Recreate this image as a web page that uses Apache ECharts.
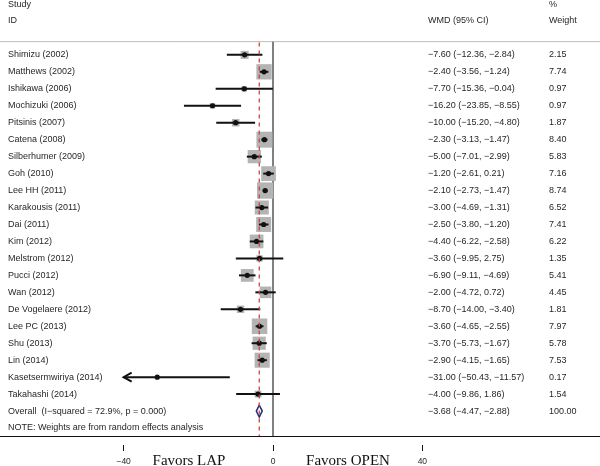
<!DOCTYPE html>
<html>
<head>
<meta charset="utf-8">
<script src="https://cdn.jsdelivr.net/npm/echarts@6/dist/echarts.min.js"></script>
<style>html,body{margin:0;padding:0;background:#fff}#c{width:600px;height:466px}</style>
</head>
<body>
<div id="c"></div>
<script>
const studies = ["Shimizu (2002)","Matthews (2002)","Ishikawa (2006)","Mochizuki (2006)","Pitsinis (2007)","Catena (2008)","Silberhumer (2009)","Goh (2010)","Lee HH (2011)","Karakousis (2011)","Dai (2011)","Kim (2012)","Melstrom (2012)","Pucci (2012)","Wan (2012)","De Vogelaere (2012)","Lee PC (2013)","Shu (2013)","Lin (2014)","Kasetsermwiriya (2014)","Takahashi (2014)"];
const wmd = [-7.60,-2.40,-7.70,-16.20,-10.00,-2.30,-5.00,-1.20,-2.10,-3.00,-2.50,-4.40,-3.60,-6.90,-2.00,-8.70,-3.60,-3.70,-2.90,-31.00,-4.00];
const ciLow = [-12.36,-3.56,-15.36,-23.85,-15.20,-3.13,-7.01,-2.61,-2.73,-4.69,-3.80,-6.22,-9.95,-9.11,-4.72,-14.00,-4.65,-5.73,-4.15,-50.43,-9.86];
const ciHigh = [-2.84,-1.24,-0.04,-8.55,-4.80,-1.47,-2.99,0.21,-1.47,-1.31,-1.20,-2.58,2.75,-4.69,0.72,-3.40,-2.55,-1.67,-1.65,-11.57,1.86];
const weights = [2.15,7.74,0.97,0.97,1.87,8.40,5.83,7.16,8.74,6.52,7.41,6.22,1.35,5.41,4.45,1.81,7.97,5.78,7.53,0.17,1.54];
const overallLabel = "Overall  (I\u2212squared = 72.9%, p = 0.000)";
const overall = {wmd: -3.68, low: -4.47, high: -2.88, weight: 100.00};
const xTicks = [-40, 0, 40];
const noteText = "NOTE: Weights are from random effects analysis";

const fmt = v => (v < 0 ? "\u2212" : "") + Math.abs(v).toFixed(2);
const ciStr = (e, l, h) => fmt(e) + " (" + fmt(l) + ", " + fmt(h) + ")";

const X_MIN = -73.11, X_MAX = 87.57, CLIP = -40;
const Y_MIN = -3.235, Y_MAX = 22.47, HEADER_ROW = -0.78;
const nRows = studies.length;
const overallRow = nRows;

const sans = "'Liberation Sans', Arial, sans-serif";
const txtColor = "#231f20";

const studyData = studies.map((s, i) => [wmd[i], ciLow[i], ciHigh[i], weights[i], i]);
const textData = studies.map((s, i) => [0, i]).concat([[0, overallRow]]);
const rowName = studies.concat([overallLabel]);
const rowCI = studies.map((s, i) => ciStr(wmd[i], ciLow[i], ciHigh[i])).concat([ciStr(overall.wmd, overall.low, overall.high)]);
const rowW = weights.map(w => w.toFixed(2)).concat([overall.weight.toFixed(2)]);

const chart = echarts.init(document.getElementById('c'), null, {renderer: 'canvas'});
const option = {
  animation: false,
  backgroundColor: '#fff',
  grid: {left: 0, right: 0, top: 0, bottom: 29, containLabel: false},
  xAxis: [
    {type: 'value', min: X_MIN, max: X_MAX, position: 'bottom',
     axisLine: {show: true, onZero: false, lineStyle: {color: '#111', width: 1}},
     axisTick: {show: false}, axisLabel: {show: false}, splitLine: {show: false}},
    {type: 'value', min: X_MIN, max: X_MAX, position: 'bottom', offset: 9,
     axisLine: {show: false, onZero: false},
     axisTick: {show: true, length: 6, customValues: xTicks, lineStyle: {color: '#111', width: 1}},
     axisLabel: {show: true, customValues: xTicks, margin: 12, fontSize: 8.5, fontFamily: sans, color: txtColor,
                 formatter: v => (v < 0 ? '\u2212' : '') + Math.abs(v)},
     splitLine: {show: false}}
  ],
  yAxis: {type: 'value', inverse: true, min: Y_MIN, max: Y_MAX, show: false},
  graphic: [
    {type: 'text', left: 8, top: 0, style: {text: 'Study', font: '9px ' + sans, fill: txtColor}},
    {type: 'text', left: 8, top: 16, style: {text: 'ID', font: '9px ' + sans, fill: txtColor}},
    {type: 'text', left: 428, top: 16, style: {text: 'WMD (95% CI)', font: '9px ' + sans, fill: txtColor}},
    {type: 'text', left: 549, top: 0, style: {text: '%', font: '9px ' + sans, fill: txtColor}},
    {type: 'text', left: 549, top: 16, style: {text: 'Weight', font: '9px ' + sans, fill: txtColor}},
    {type: 'text', left: 8, top: 423, style: {text: noteText, font: '9px ' + sans, fill: txtColor}},
    {type: 'text', x: 189, y: 461, style: {text: 'Favors LAP', font: "15px 'Liberation Serif', 'Times New Roman', serif", fill: '#111', align: 'center', verticalAlign: 'middle'}},
    {type: 'text', x: 348, y: 461, style: {text: 'Favors OPEN', font: "15px 'Liberation Serif', 'Times New Roman', serif", fill: '#111', align: 'center', verticalAlign: 'middle'}}
  ],
  series: [
    {type: 'line', name: 'header', data: [[X_MIN, HEADER_ROW], [X_MAX, HEADER_ROW]], symbol: 'none',
     lineStyle: {color: '#bdbdbd', width: 1}, silent: true, z: 1},
    {type: 'line', name: 'zero', data: [[0, HEADER_ROW], [0, Y_MAX]], symbol: 'none',
     lineStyle: {color: '#4a4a4a', width: 1.4}, silent: true, z: 2},
    {type: 'custom', name: 'studies', z: 3, clip: false,
     encode: {x: [0, 1, 2], y: 4},
     data: studyData,
     renderItem: function (params, api) {
       const e = api.value(0), l = api.value(1), h = api.value(2), w = api.value(3), r = api.value(4);
       const pE = api.coord([e, r]);
       const pL = api.coord([Math.max(l, CLIP), r]);
       const pH = api.coord([h, r]);
       const side = 5.5 * Math.sqrt(w);
       const y = pE[1];
       const children = [
         {type: 'rect', shape: {x: pE[0] - side / 2, y: y - side / 2, width: side, height: side},
          style: {fill: '#b4b4b4'}},
         {type: 'line', shape: {x1: pL[0], y1: y, x2: pH[0], y2: y},
          style: {stroke: '#111', lineWidth: 2}},
         {type: 'circle', shape: {cx: pE[0], cy: y, r: 2.6}, style: {fill: '#111'}}
       ];
       if (l < CLIP) {
         children.push({type: 'polyline', shape: {points: [[pL[0] + 8, y - 4.5], [pL[0], y], [pL[0] + 8, y + 4.5]]},
           style: {stroke: '#111', lineWidth: 2, fill: null}});
       }
       return {type: 'group', children: children};
     }},
    {type: 'custom', name: 'overall', z: 4, clip: false,
     encode: {x: [0, 1, 2], y: 3},
     data: [[overall.wmd, overall.low, overall.high, overallRow]],
     renderItem: function (params, api) {
       const r = api.value(3);
       const pE = api.coord([api.value(0), r]);
       const pL = api.coord([api.value(1), r]);
       const pH = api.coord([api.value(2), r]);
       const hh = 6;
       return {type: 'polygon', shape: {points: [[pL[0], pE[1]], [pE[0], pE[1] - hh], [pH[0], pE[1]], [pE[0], pE[1] + hh]]},
         style: {fill: '#fff', stroke: '#1f2a7a', lineWidth: 1.5}};
     }},
    {type: 'line', name: 'pooled', data: [[overall.wmd, HEADER_ROW + 0.05], [overall.wmd, Y_MAX]], symbol: 'none',
     lineStyle: {color: '#c8463c', width: 1.3, type: [4, 4]}, silent: true, z: 5},
    {type: 'custom', name: 'text', z: 6, clip: false,
     encode: {x: 0, y: 1},
     data: textData,
     renderItem: function (params, api) {
       const i = params.dataIndex;
       const y = api.coord([0, api.value(1)])[1];
       const st = (t, x) => ({type: 'text', x: x, y: y,
         style: {text: t, font: '9px ' + sans, fill: txtColor, verticalAlign: 'middle', align: 'left'}});
       return {type: 'group', children: [st(rowName[i], 8), st(rowCI[i], 428), st(rowW[i], 549)]};
     }}
  ]
};
chart.setOption(option);
</script>
</body>
</html>
